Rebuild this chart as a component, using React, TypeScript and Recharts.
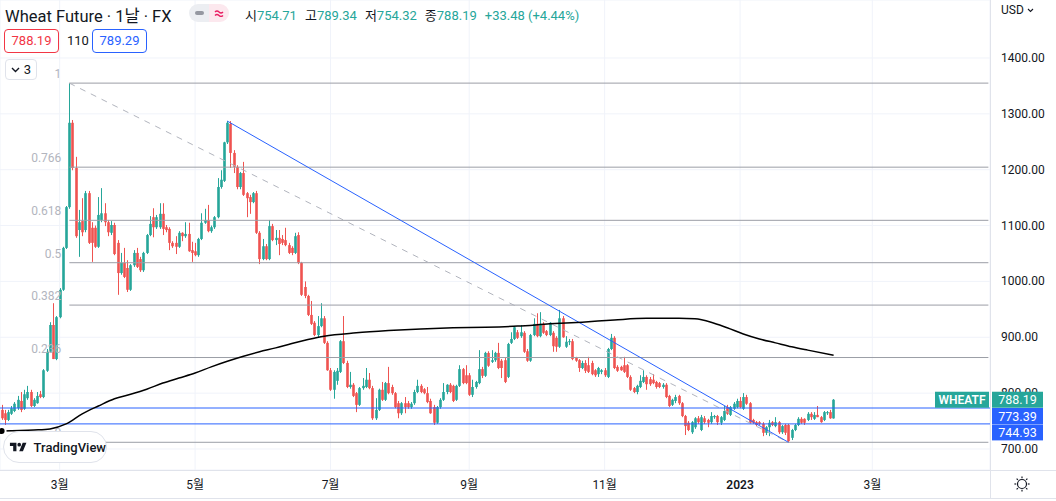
import React from "react";
import {
  ComposedChart,
  Bar,
  Line,
  XAxis,
  YAxis,
  CartesianGrid,
  ReferenceLine,
} from "recharts";

const UP = "#26a69a";
const DOWN = "#ef5350";
const BLUE = "#2962ff";
const TEXT = "#131722";
const BORDER = "#e0e3eb";
const FONT = "Roboto, 'Noto Sans CJK KR', sans-serif";

// daily candles, [open, high, low, close], mid Feb 2022 -> Feb 2023
const ohlc: [number, number, number, number][] = [
  [770, 779, 752, 755], [764, 770, 743, 752], [752, 770, 750, 766], [763, 777, 761, 773],
  [768, 784, 766, 781], [773, 795, 770, 788], [786, 802, 766, 770], [772, 806, 770, 798],
  [791, 813, 788, 802], [802, 806, 775, 777], [777, 791, 775, 788], [782, 802, 781, 795],
  [798, 804, 791, 793], [793, 843, 791, 841], [840, 879, 838, 874], [874, 927, 872, 922],
  [922, 961, 861, 861], [861, 938, 859, 936], [936, 988, 934, 985], [985, 1062, 983, 1060],
  [1060, 1135, 1058, 1133], [1133, 1355, 1130, 1284], [1284, 1289, 1199, 1203], [1203, 1223, 1078, 1081],
  [1092, 1128, 1044, 1106], [1108, 1149, 1081, 1088], [1092, 1162, 1088, 1158], [1158, 1162, 1067, 1069],
  [1096, 1106, 1035, 1069], [1096, 1100, 1060, 1062], [1062, 1151, 1060, 1119], [1110, 1167, 1106, 1122],
  [1122, 1140, 1099, 1106], [1106, 1110, 1081, 1088], [1087, 1108, 1083, 1101], [1101, 1105, 1047, 1049],
  [1069, 1074, 976, 1015], [1015, 1051, 1012, 1033], [1033, 1060, 1006, 1008], [1024, 1038, 981, 985],
  [985, 1031, 983, 1029], [1029, 1056, 1026, 1051], [1051, 1060, 1024, 1026],
  // April - May
  [1040, 1044, 1017, 1020], [1020, 1053, 1017, 1051], [1051, 1085, 1049, 1083], [1083, 1117, 1081, 1103],
  [1115, 1131, 1079, 1097], [1097, 1119, 1094, 1115], [1097, 1140, 1094, 1121], [1121, 1140, 1083, 1094],
  [1097, 1101, 1088, 1092], [1094, 1097, 1056, 1069], [1069, 1072, 1060, 1063], [1069, 1081, 1049, 1062],
  [1062, 1090, 1060, 1087], [1087, 1088, 1072, 1081], [1081, 1106, 1078, 1085], [1085, 1105, 1053, 1054],
  [1056, 1071, 1035, 1051], [1054, 1069, 1045, 1047], [1047, 1078, 1044, 1076], [1076, 1122, 1074, 1105],
  [1105, 1130, 1103, 1110], [1110, 1137, 1088, 1090], [1090, 1100, 1087, 1097], [1097, 1117, 1094, 1115],
  [1115, 1185, 1113, 1169], [1169, 1199, 1166, 1182], [1180, 1250, 1178, 1249], [1249, 1287, 1246, 1284],
  [1282, 1287, 1203, 1230], [1230, 1235, 1194, 1205], [1205, 1208, 1165, 1169], [1169, 1196, 1165, 1194],
  [1194, 1214, 1153, 1155], [1158, 1160, 1115, 1149], [1151, 1155, 1121, 1142], [1142, 1160, 1140, 1158],
  [1158, 1162, 1085, 1087], [1087, 1090, 1031, 1040], [1040, 1076, 1038, 1063], [1063, 1067, 1038, 1040],
  [1040, 1110, 1038, 1099], [1099, 1103, 1072, 1074], [1074, 1092, 1065, 1078],
  // June - July
  [1078, 1092, 1047, 1067], [1076, 1083, 1065, 1069], [1074, 1096, 1063, 1065], [1065, 1069, 1049, 1051],
  [1060, 1063, 1047, 1051], [1051, 1087, 1049, 1081], [1083, 1088, 1031, 1033], [1033, 1035, 974, 976],
  [990, 1000, 970, 974], [974, 976, 938, 940], [940, 965, 922, 924], [926, 929, 902, 904],
  [904, 938, 900, 920], [920, 961, 918, 934], [934, 938, 888, 890], [890, 893, 840, 841],
  [841, 845, 804, 806], [806, 841, 790, 838], [822, 845, 815, 840], [838, 895, 836, 893],
  [893, 938, 852, 854], [854, 858, 809, 811], [811, 838, 808, 815], [815, 818, 793, 795],
  [800, 802, 766, 779], [779, 811, 777, 809], [809, 827, 806, 813], [811, 845, 809, 824],
  [824, 836, 807, 809], [809, 813, 752, 755], [755, 791, 752, 770], [770, 808, 768, 806],
  [806, 820, 786, 788], [788, 820, 786, 818], [818, 847, 798, 800], [811, 815, 797, 800],
  [800, 802, 773, 775], [782, 786, 755, 764], [764, 784, 761, 782], [782, 793, 764, 775],
  [782, 786, 772, 775], [775, 784, 772, 781], [782, 806, 779, 802],
  // August - October
  [802, 824, 800, 813], [813, 816, 800, 802], [807, 809, 798, 800], [800, 811, 782, 784],
  [786, 790, 763, 764], [775, 779, 743, 747], [747, 777, 745, 775], [775, 791, 772, 788],
  [788, 818, 786, 802], [802, 816, 798, 815], [815, 818, 800, 802], [813, 815, 784, 786],
  [788, 815, 786, 813], [813, 850, 811, 843], [843, 845, 816, 818], [832, 850, 816, 818],
  [832, 836, 795, 797], [797, 824, 793, 811], [811, 822, 808, 820], [818, 877, 816, 843],
  [843, 847, 827, 831], [831, 874, 829, 872], [872, 875, 847, 849], [856, 877, 854, 859],
  [859, 874, 856, 872], [872, 890, 843, 845], [858, 861, 827, 845], [859, 863, 818, 820],
  [829, 890, 827, 888], [890, 909, 888, 897], [897, 920, 895, 918], [909, 913, 897, 899],
  [902, 922, 899, 909], [908, 911, 872, 874], [875, 879, 856, 858], [858, 906, 856, 904],
  [904, 934, 902, 924], [924, 943, 900, 902], [902, 945, 900, 924], [924, 927, 906, 908],
  [911, 913, 902, 904], [904, 927, 902, 926], [908, 911, 874, 884], [899, 902, 874, 883],
  [883, 949, 881, 934], [934, 938, 899, 900],
  // October - December
  [883, 902, 881, 892], [892, 897, 886, 893], [893, 897, 859, 861], [863, 865, 856, 858],
  [859, 861, 838, 845], [845, 858, 843, 854], [854, 859, 836, 840], [850, 865, 836, 838],
  [854, 858, 832, 834], [841, 843, 829, 832], [834, 847, 829, 845], [838, 843, 834, 841],
  [841, 845, 829, 832], [829, 881, 827, 879], [879, 906, 877, 899], [899, 902, 843, 845],
  [847, 850, 838, 840], [847, 849, 840, 841], [850, 865, 836, 838], [850, 852, 827, 829],
  [829, 832, 804, 806], [809, 811, 800, 802], [802, 815, 798, 813], [811, 832, 809, 822],
  [820, 841, 818, 829], [829, 832, 806, 816], [825, 829, 813, 816], [824, 834, 816, 818],
  [820, 822, 808, 811], [818, 820, 809, 811], [811, 818, 808, 815], [815, 818, 791, 793],
  [795, 797, 775, 777], [779, 790, 777, 788], [786, 797, 782, 793], [795, 797, 779, 782],
  [782, 784, 757, 759], [759, 761, 725, 741], [747, 750, 732, 734], [730, 750, 727, 748],
  [739, 757, 736, 755], [755, 759, 745, 748], [734, 761, 732, 757],
  // December - February
  [755, 759, 745, 748], [752, 754, 739, 747], [748, 766, 745, 759], [757, 761, 754, 759],
  [759, 761, 743, 748], [747, 759, 743, 757], [752, 777, 750, 768], [775, 779, 761, 763],
  [761, 777, 759, 775], [772, 784, 770, 781], [775, 790, 773, 786], [786, 793, 773, 775],
  [772, 800, 770, 793], [793, 797, 779, 781], [782, 784, 745, 747], [752, 754, 745, 747],
  [748, 750, 741, 743], [748, 750, 743, 745], [745, 748, 723, 729], [729, 741, 725, 739],
  [739, 752, 723, 747], [748, 750, 741, 743], [741, 757, 739, 748], [748, 750, 727, 730],
  [730, 743, 727, 741], [743, 745, 725, 729], [743, 745, 712, 714], [720, 736, 716, 734],
  [734, 745, 732, 743], [743, 757, 741, 754], [754, 757, 745, 747], [754, 755, 743, 747],
  [752, 766, 750, 763], [763, 766, 752, 757], [754, 766, 752, 761], [761, 777, 757, 757],
  [757, 759, 747, 748], [752, 768, 750, 766], [764, 768, 761, 766], [766, 770, 754, 755],
  [754.71, 789.34, 754.32, 788.19],
];

// moving average, read at every few candles: [candle index, price]
const maPoints: [number, number][] = [
  [0, 732], [10, 734], [15, 736], [20, 745], [25, 763], [30, 777], [35, 790], [40, 798],
  [45, 807], [50, 818], [55, 827], [60, 836], [65, 847], [70, 857], [75, 866], [80, 874],
  [85, 881], [90, 889], [95, 896], [100, 902], [110, 908], [120, 912], [130, 915], [140, 917],
  [150, 918], [160, 920], [170, 924], [180, 927], [190, 931], [200, 934], [210, 934], [215, 933],
  [220, 927], [225, 917], [230, 906], [235, 897], [240, 890], [245, 883], [250, 877], [258, 868],
];

const monthTicks = [18, 60, 102, 145, 187, 229, 270];
const monthLabels = ["3월", "5월", "7월", "9월", "11월", "2023", "3월"];
const priceTicks = [700, 800, 900, 1000, 1100, 1200, 1300, 1400];

// fib retracement drawn from the March high to the January low
const fibHigh = { i: 21, price: 1355 };
const fibLow = { i: 244, price: 712 };
const fibRatios = [1, 0.766, 0.618, 0.5, 0.382, 0.236, 0];
const fibTexts = ["1", "0.766", "0.618", "0.5", "0.382", "0.236", "0"];

// trend line from the May high
const trendStart = { i: 70, price: 1287 };
const trendEnd = { i: 244, price: 712 };

const lastPrice = 788.19;
const bidPrice = 773.39;
const askPrice = 744.93;

const SLOTS = 307;
const DOMAIN: [number, number] = [662.4, 1503.8];

const data = Array.from({ length: SLOTS }, (_, i) => {
  const row: any = { i };
  const c = ohlc[i];
  if (c) {
    row.o = c[0];
    row.h = c[1];
    row.l = c[2];
    row.c = c[3];
    row.range = [c[2], c[1]];
  }
  return row;
});
maPoints.forEach(([i, v]) => {
  data[i].ma = v;
});

function Candle(props: any) {
  const { x, width, payload } = props;
  let { y, height } = props;
  if (!payload || payload.o == null) return null;
  if (height < 0) {
    y += height;
    height = -height;
  }
  const { o, h, l, c } = payload;
  const color = c >= o ? UP : DOWN;
  const k = h > l ? height / (h - l) : 0;
  const cx = Math.round(x + width / 2) + 0.5;
  const top = y + (h - Math.max(o, c)) * k;
  const bh = Math.max(1, Math.abs(o - c) * k);
  const bw = 2.6;
  return (
    <g>
      <line x1={cx} x2={cx} y1={y} y2={y + height} stroke={color} strokeWidth={1} />
      <rect x={cx - bw / 2} y={top} width={bw} height={bh} fill={color} />
    </g>
  );
}

function FibLabel(props: any) {
  const { viewBox, text } = props;
  if (!viewBox) return null;
  return (
    <text
      x={viewBox.x - 8}
      y={viewBox.y - 5}
      textAnchor="end"
      fontSize={12}
      fill="#b2b5be"
      fontFamily={FONT}
    >
      {text}
    </text>
  );
}

function PriceTag(props: any) {
  const { viewBox, text, color, shift = 0, name } = props;
  if (!viewBox) return null;
  const right = viewBox.x + viewBox.width;
  const cy = viewBox.y + shift;
  return (
    <g fontFamily={FONT}>
      {name && (
        <>
          <rect x={right - 55} y={cy - 8} width={54} height={16} fill={color} />
          <text x={right - 28} y={cy + 4} textAnchor="middle" fill="#fff" fontSize={12} fontWeight={600}>
            {name}
          </text>
        </>
      )}
      <rect x={right + 2} y={cy - 8} width={51} height={16} fill={color} />
      <text x={right + 27.5} y={cy + 4.5} textAnchor="middle" fill="#fff" fontSize={12.5}>
        {text}
      </text>
    </g>
  );
}

function MonthTick(props: any) {
  const { x, payload } = props;
  const idx = monthTicks.indexOf(payload.value);
  const label = monthLabels[idx] ?? "";
  return (
    <text
      x={x}
      y={489}
      textAnchor="middle"
      fontSize={12}
      fill={TEXT}
      fontFamily={FONT}
      fontWeight={label === "2023" ? 600 : 400}
    >
      {label}
    </text>
  );
}

function PriceTick(props: any) {
  const { y, payload } = props;
  return (
    <text x={1001} y={y + 4} fontSize={12} fill={TEXT} fontFamily={FONT}>
      {Number(payload.value).toFixed(2)}
    </text>
  );
}

function Header() {
  const group = (label: string, value: string) => (
    <span style={{ marginRight: 8 }}>
      {label}
      <span style={{ color: UP }}>{value}</span>
    </span>
  );
  const box = (color: string): React.CSSProperties => ({
    position: "absolute",
    top: 29,
    height: 22,
    width: 53,
    border: `1px solid ${color}`,
    borderRadius: 4,
    color,
    fontSize: 13,
    lineHeight: "22px",
    textAlign: "center",
    background: "#fff",
  });
  return (
    <>
      <div style={{ position: "absolute", left: 5, top: 3, fontSize: 16.5, color: TEXT, whiteSpace: "nowrap" }}>
        Wheat Future · 1날 · FX
      </div>
      <div
        style={{
          position: "absolute",
          left: 189,
          top: 4,
          width: 40,
          height: 18,
          borderRadius: 9,
          overflow: "hidden",
          display: "flex",
        }}
      >
        <div style={{ flex: 1, background: "#eceef2", display: "flex", alignItems: "center", justifyContent: "center" }}>
          <svg width="9" height="4" viewBox="0 0 9 4">
            <rect x="0" y="0" width="9" height="4" rx="2" fill="#9598a1" />
          </svg>
        </div>
        <div style={{ flex: 1, background: "#fce8ee", display: "flex", alignItems: "center", justifyContent: "center" }}>
          <svg width="10" height="8" viewBox="0 0 10 8">
            <path d="M1 3c1.5-1.5 2.5-1.5 4 0s2.5 1.5 4 0M1 6.5c1.5-1.5 2.5-1.5 4 0s2.5 1.5 4 0" fill="none" stroke="#e91e63" strokeWidth="1.4" />
          </svg>
        </div>
      </div>
      <div style={{ position: "absolute", left: 245, top: 5, fontSize: 13, color: TEXT, whiteSpace: "nowrap" }}>
        {group("시", "754.71")}
        {group("고", "789.34")}
        {group("저", "754.32")}
        {group("종", "788.19")}
        <span style={{ color: UP }}>+33.48 (+4.44%)</span>
      </div>
      <div style={{ ...box("#f23645"), left: 4 }}>788.19</div>
      <div style={{ position: "absolute", left: 67, top: 33, fontSize: 13, color: TEXT }}>110</div>
      <div style={{ ...box(BLUE), left: 92 }}>789.29</div>
      <div
        style={{
          position: "absolute",
          left: 5,
          top: 59,
          width: 30,
          height: 19,
          border: `1px solid ${BORDER}`,
          borderRadius: 4,
          background: "#fff",
          fontSize: 13,
          color: TEXT,
          display: "flex",
          alignItems: "center",
          justifyContent: "center",
          gap: 4,
        }}
      >
        <svg width="9" height="6" viewBox="0 0 9 6">
          <path d="M1 1l3.5 3.5L8 1" fill="none" stroke={TEXT} strokeWidth="1.4" />
        </svg>
        3
      </div>
    </>
  );
}

export default function App() {
  const fibRange = fibHigh.price - fibLow.price;
  return (
    <div
      style={{
        position: "absolute",
        left: 0,
        top: 0,
        width: 1056,
        height: 501,
        background: "#fff",
        fontFamily: FONT,
        overflow: "hidden",
      }}
    >
      <ComposedChart
        width={1056}
        height={501}
        data={data}
        margin={{ top: 0, right: 0, bottom: 0, left: 0 }}
        barCategoryGap={0}
      >
        <CartesianGrid stroke="#f0f3fa" />
        <XAxis
          dataKey="i"
          type="category"
          ticks={monthTicks}
          interval={0}
          height={31}
          axisLine={false}
          tickLine={false}
          tick={<MonthTick />}
        />
        <YAxis
          orientation="right"
          width={66}
          domain={DOMAIN}
          allowDataOverflow
          ticks={priceTicks}
          axisLine={false}
          tickLine={false}
          tick={<PriceTick />}
        />
        {fibRatios.map((r, k) => {
          const p = fibLow.price + fibRange * r;
          return (
            <ReferenceLine
              key={r}
              segment={[
                { x: fibHigh.i, y: p },
                { x: SLOTS - 1, y: p },
              ]}
              stroke="#9b9ea6"
              strokeWidth={1}
              label={<FibLabel text={fibTexts[k]} />}
            />
          );
        })}
        <ReferenceLine
          segment={[
            { x: fibHigh.i, y: fibHigh.price },
            { x: fibLow.i, y: fibLow.price },
          ]}
          stroke="#b2b5be"
          strokeDasharray="6 6"
        />
        <ReferenceLine y={bidPrice} stroke={BLUE} strokeWidth={1} />
        <ReferenceLine y={askPrice} stroke={BLUE} strokeWidth={1} />
        <ReferenceLine
          segment={[
            { x: trendStart.i, y: trendStart.price },
            { x: trendEnd.i, y: trendEnd.price },
          ]}
          stroke={BLUE}
          strokeWidth={1}
        />
        <Bar dataKey="range" shape={<Candle />} isAnimationActive={false} />
        <Line
          dataKey="ma"
          type="monotone"
          connectNulls
          dot={false}
          stroke="#000"
          strokeWidth={1.5}
          isAnimationActive={false}
        />
      </ComposedChart>

      {/* price tags drawn on a second layer so they sit over the axis labels */}
      <div style={{ position: "absolute", left: 0, top: 0, pointerEvents: "none" }}>
        <ComposedChart
          width={1056}
          height={501}
          data={data}
          margin={{ top: 0, right: 66, bottom: 31, left: 0 }}
        >
          <XAxis dataKey="i" type="category" hide />
          <YAxis domain={DOMAIN} allowDataOverflow hide />
          <ReferenceLine
            y={lastPrice}
            stroke="none"
            label={<PriceTag text="788.19" color={UP} name="WHEATF" />}
          />
          <ReferenceLine
            y={bidPrice}
            stroke="none"
            label={<PriceTag text="773.39" color={BLUE} shift={8} />}
          />
          <ReferenceLine
            y={askPrice}
            stroke="none"
            label={<PriceTag text="744.93" color={BLUE} shift={8.5} />}
          />
        </ComposedChart>
      </div>

      {/* pane borders */}
      <div style={{ position: "absolute", left: 990, top: 0, width: 1, height: 498, background: BORDER }} />
      <div style={{ position: "absolute", left: 0, top: 470, width: 1056, height: 1, background: BORDER }} />
      <div style={{ position: "absolute", left: 0, top: 498, width: 1056, height: 1, background: BORDER }} />

      <Header />

      <div style={{ position: "absolute", left: 1001, top: 3, fontSize: 12, color: TEXT, display: "flex", alignItems: "center", gap: 3 }}>
        USD
        <svg width="7" height="5" viewBox="0 0 7 5">
          <path d="M1 1l2.5 2.5L6 1" fill="none" stroke={TEXT} strokeWidth="1.1" />
        </svg>
      </div>

      <div
        style={{
          position: "absolute",
          left: 3,
          top: 431,
          width: 104,
          height: 32,
          borderRadius: 17,
          border: `1px solid ${BORDER}`,
          background: "#fff",
          display: "flex",
          alignItems: "center",
          gap: 6,
          paddingLeft: 5,
          boxSizing: "border-box",
        }}
      >
        <svg width="22" height="13" viewBox="0 0 36 28">
          <path d="M14 22H7V11H0V4h14v18z M28 22h-8l7.5-18h8L28 22z" fill={TEXT} />
          <circle cx="20" cy="8" r="4" fill={TEXT} />
        </svg>
        <span style={{ fontSize: 13, color: TEXT, fontWeight: 500 }}>TradingView</span>
      </div>

      <svg style={{ position: "absolute", left: 1013, top: 475 }} width="18" height="18" viewBox="0 0 18 18">
        <circle cx="9" cy="9" r="4.5" fill="none" stroke={TEXT} strokeWidth="1.2" />
        {[0, 45, 90, 135, 180, 225, 270, 315].map((a) => {
          const rad = (a * Math.PI) / 180;
          return (
            <line
              key={a}
              x1={9 + Math.cos(rad) * 5.8}
              y1={9 + Math.sin(rad) * 5.8}
              x2={9 + Math.cos(rad) * 7.6}
              y2={9 + Math.sin(rad) * 7.6}
              stroke={TEXT}
              strokeWidth="1.2"
            />
          );
        })}
      </svg>
    </div>
  );
}
